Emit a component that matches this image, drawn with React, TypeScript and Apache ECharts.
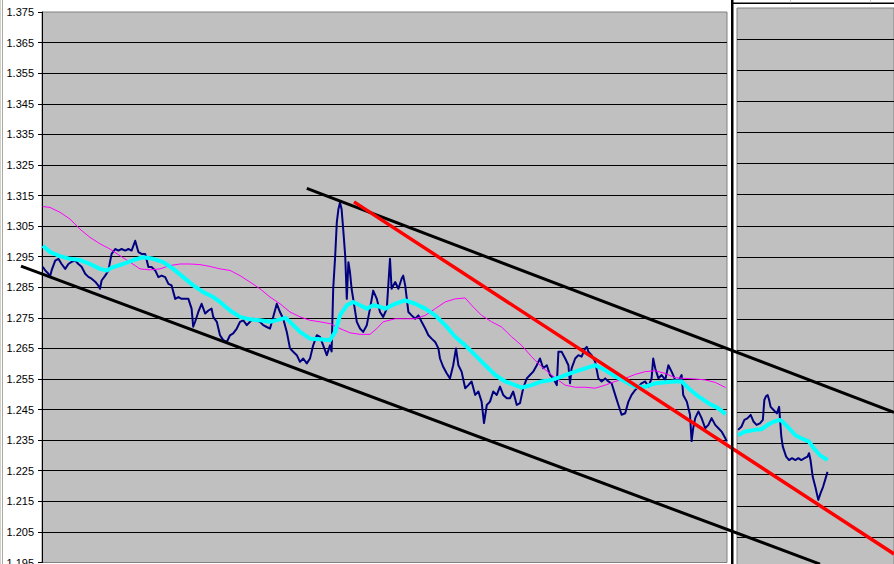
import React, { useEffect, useRef } from "react";
import * as echarts from "echarts";

// Axis range (price), and tick spacing
const priceMin = 1.195;
const priceMax = 1.375;
const priceStep = 0.01;
// x spans (sample periods) of the two panels
const leftSpan = 171.25;
const rightSpan = 42.5;

// Left panel: price [period, price]
const priceLeft: [number, number][] = [
  [0.2, 1.2917], [0.8, 1.2905], [1.6, 1.2894], [2.0, 1.2884], [2.4, 1.2905], [3.3, 1.2937], [4.1, 1.2943],
  [4.9, 1.2926], [5.8, 1.291], [6.6, 1.2926], [7.4, 1.2933], [8.3, 1.2937], [9.1, 1.2926], [9.9, 1.2917],
  [10.8, 1.2894], [11.6, 1.2884], [12.4, 1.2878], [13.3, 1.2868], [14.1, 1.2855], [14.5, 1.2845], [14.9, 1.2872],
  [15.8, 1.2888], [16.6, 1.2905], [17.4, 1.2959], [18.3, 1.2975], [19.1, 1.297], [19.9, 1.2975], [20.8, 1.297],
  [21.6, 1.2975], [22.4, 1.297], [23.3, 1.3002], [24.1, 1.2965], [24.9, 1.2959], [25.8, 1.2959], [26.6, 1.2916],
  [27.4, 1.2916], [28.3, 1.2905], [29.1, 1.2883], [29.9, 1.2888], [30.8, 1.2883], [31.6, 1.2861], [32.4, 1.2856],
  [33.3, 1.2812], [34.1, 1.2818], [34.9, 1.2812], [35.8, 1.2812], [36.6, 1.2812], [37.4, 1.278], [37.8, 1.2721],
  [38.3, 1.2738], [39.1, 1.277], [39.9, 1.2796], [40.8, 1.2764], [41.6, 1.2774], [42.4, 1.278], [42.8, 1.2753],
  [43.7, 1.2737], [44.5, 1.2693], [45.3, 1.2677], [46.2, 1.2671], [47.0, 1.2693], [47.8, 1.2699], [48.7, 1.2715],
  [49.5, 1.2737], [50.3, 1.2742], [51.2, 1.2726], [52.0, 1.2737], [52.8, 1.2747], [53.7, 1.2742], [54.5, 1.2737],
  [55.3, 1.2726], [56.2, 1.272], [57.0, 1.2715], [57.8, 1.2753], [58.7, 1.2796], [59.5, 1.2769], [60.3, 1.2747],
  [61.2, 1.2704], [62.0, 1.265], [62.8, 1.2639], [63.7, 1.2628], [64.5, 1.2606], [65.3, 1.2617], [66.2, 1.2601],
  [67.0, 1.2617], [67.8, 1.266], [68.7, 1.2693], [69.5, 1.2688], [70.3, 1.266], [71.2, 1.2628], [72.0, 1.266],
  [72.4, 1.264], [72.8, 1.2845], [73.3, 1.2953], [73.7, 1.3062], [74.1, 1.3105], [74.5, 1.3127], [74.9, 1.3105],
  [75.3, 1.304], [75.8, 1.2953], [76.2, 1.2812], [76.6, 1.2932], [77.0, 1.2899], [77.4, 1.2845], [77.8, 1.2812],
  [78.7, 1.2737], [79.5, 1.2715], [80.3, 1.2704], [81.2, 1.2726], [82.0, 1.278], [82.8, 1.2839], [83.7, 1.2812],
  [84.5, 1.2769], [85.3, 1.2753], [86.2, 1.278], [86.6, 1.2861], [87.0, 1.2943], [87.4, 1.2845], [88.3, 1.2867],
  [89.1, 1.2845], [89.9, 1.2878], [90.3, 1.2888], [90.8, 1.2856], [91.2, 1.2812], [91.6, 1.2769], [92.4, 1.2758],
  [93.3, 1.2747], [94.1, 1.2758], [94.9, 1.2737], [95.8, 1.2715], [96.6, 1.2693], [97.4, 1.2682], [98.3, 1.2671],
  [99.1, 1.265], [99.5, 1.2617], [100.3, 1.259], [101.2, 1.2568], [102.0, 1.2552], [102.8, 1.2595], [103.5, 1.265],
  [104.1, 1.2595], [104.9, 1.2574], [105.8, 1.252], [106.6, 1.253], [107.4, 1.2542], [108.3, 1.2498], [109.1, 1.2509],
  [109.9, 1.2476], [110.5, 1.2406], [111.2, 1.2465], [112.0, 1.2476], [112.8, 1.2509], [113.7, 1.2498], [114.5, 1.2525],
  [115.3, 1.2498], [116.2, 1.2487], [117.0, 1.2487], [117.8, 1.2509], [118.7, 1.2465], [119.5, 1.2471], [120.3, 1.252],
  [121.2, 1.2552], [122.0, 1.2563], [122.8, 1.2574], [123.7, 1.2595], [124.5, 1.2617], [125.3, 1.2585], [126.2, 1.2595],
  [127.0, 1.2563], [127.8, 1.2552], [128.7, 1.253], [129.1, 1.2639], [129.9, 1.2639], [130.8, 1.2617], [131.6, 1.2595],
  [132.0, 1.2536], [132.4, 1.2585], [133.3, 1.2617], [134.1, 1.2628], [134.9, 1.2623], [135.8, 1.265], [136.2, 1.2655],
  [136.6, 1.2639], [137.4, 1.2628], [138.3, 1.2606], [139.1, 1.2552], [139.9, 1.2542], [140.8, 1.2552], [141.6, 1.2542],
  [142.4, 1.2536], [143.3, 1.2498], [144.1, 1.2465], [144.9, 1.2433], [145.8, 1.2438], [146.6, 1.2476], [147.4, 1.2498],
  [148.3, 1.2514], [149.1, 1.2525], [149.9, 1.2536], [150.8, 1.2542], [151.6, 1.2525], [152.4, 1.2552], [152.8, 1.2617],
  [153.3, 1.2585], [154.1, 1.2552], [154.9, 1.2563], [155.8, 1.2547], [156.6, 1.2595], [157.4, 1.2574], [158.3, 1.2547],
  [159.1, 1.2542], [159.9, 1.2563], [160.3, 1.2498], [161.2, 1.2476], [162.0, 1.2433], [162.4, 1.2347], [162.8, 1.2389],
  [163.3, 1.2422], [164.1, 1.2444], [164.9, 1.2422], [165.8, 1.2389], [166.6, 1.24], [167.4, 1.2422], [168.3, 1.24],
  [169.1, 1.2389], [169.9, 1.2378], [170.8, 1.2357], [171.2, 1.2346],
];

// Left panel: fast moving average (cyan)
const fastAvgLeft: [number, number][] = [
  [0.2, 1.2986], [2.0, 1.2965], [4.5, 1.2952], [7.0, 1.2943], [9.5, 1.2939], [12.0, 1.2926], [14.5, 1.291],
  [16.2, 1.2905], [17.8, 1.2916], [20.3, 1.2926], [22.8, 1.2939], [25.3, 1.2948], [27.8, 1.2943], [30.3, 1.2932],
  [32.8, 1.291], [35.3, 1.2883], [37.8, 1.2856], [40.3, 1.2834], [42.8, 1.2818], [44.5, 1.2802], [47.0, 1.2774],
  [49.5, 1.2753], [52.0, 1.2745], [54.5, 1.2742], [57.0, 1.2737], [59.5, 1.2745], [60.8, 1.275], [62.0, 1.2737],
  [64.5, 1.2704], [67.0, 1.2682], [69.5, 1.268], [72.0, 1.2677], [73.3, 1.2704], [74.5, 1.2758], [76.2, 1.2791],
  [77.8, 1.2802], [79.5, 1.2791], [81.2, 1.278], [82.8, 1.2791], [84.5, 1.2786], [85.8, 1.278], [88.3, 1.2796],
  [90.8, 1.2807], [93.3, 1.2796], [95.8, 1.278], [98.3, 1.2758], [100.8, 1.2726], [103.3, 1.2688], [105.8, 1.266],
  [108.3, 1.2628], [110.8, 1.2595], [113.3, 1.2563], [115.8, 1.2542], [118.3, 1.253], [119.9, 1.2522], [122.4, 1.253],
  [124.9, 1.2542], [127.4, 1.2547], [129.9, 1.2558], [130.8, 1.2563], [133.3, 1.2574], [135.8, 1.2585], [138.3, 1.2595],
  [140.8, 1.2579], [143.3, 1.2558], [145.8, 1.2542], [148.3, 1.2525], [150.8, 1.2525], [153.3, 1.2536], [155.8, 1.2539],
  [158.3, 1.2542], [159.9, 1.2542], [161.6, 1.252], [164.1, 1.2493], [166.6, 1.2471], [169.1, 1.2454], [170.9, 1.2435],
];

// Left panel: slow moving average (magenta)
const slowAvgLeft: [number, number][] = [
  [0.2, 1.3114], [2.0, 1.3111], [4.5, 1.3095], [7.0, 1.3073], [9.5, 1.304], [12.0, 1.3013], [14.5, 1.2992],
  [17.0, 1.2975], [19.5, 1.2953], [22.0, 1.2932], [24.5, 1.291], [27.0, 1.2907], [29.5, 1.291], [32.0, 1.2921],
  [34.5, 1.2926], [37.0, 1.2926], [39.5, 1.2924], [42.0, 1.2918], [44.5, 1.291], [47.0, 1.2905], [49.5, 1.2888],
  [52.0, 1.2867], [54.5, 1.2845], [57.0, 1.2818], [59.5, 1.2796], [62.0, 1.2769], [64.5, 1.2753], [67.0, 1.2742],
  [69.5, 1.2737], [72.0, 1.2731], [74.5, 1.2715], [77.0, 1.2701], [79.5, 1.2696], [82.0, 1.2696], [83.7, 1.2715],
  [85.3, 1.2737], [88.3, 1.2747], [90.8, 1.2747], [93.3, 1.2747], [95.8, 1.2758], [98.3, 1.278], [100.8, 1.2802],
  [103.3, 1.2812], [105.8, 1.2815], [107.4, 1.2791], [109.9, 1.2758], [112.4, 1.2737], [114.9, 1.272], [117.4, 1.2688],
  [119.9, 1.266], [122.4, 1.2623], [124.9, 1.259], [127.4, 1.2563], [129.5, 1.2542], [130.8, 1.253], [133.3, 1.2523],
  [135.8, 1.2523], [138.3, 1.252], [140.8, 1.253], [143.3, 1.2542], [145.8, 1.2552], [148.3, 1.2565], [150.8, 1.2574],
  [153.3, 1.2577], [155.8, 1.2568], [158.3, 1.2554], [160.8, 1.2552], [163.3, 1.255], [165.8, 1.2547], [168.3, 1.2539],
  [170.9, 1.2522],
];

// Right panel: price and fast average
const priceRight: [number, number][] = [
  [0.3, 1.2394], [1.2, 1.2404], [2.0, 1.2426], [2.8, 1.2431], [3.7, 1.2442], [4.5, 1.242], [5.3, 1.241],
  [6.2, 1.2415], [7.0, 1.2426], [7.4, 1.249], [7.8, 1.2501], [8.3, 1.2506], [8.7, 1.249], [9.1, 1.2468],
  [9.9, 1.2458], [10.8, 1.2447], [11.4, 1.2468], [12.0, 1.2372], [12.4, 1.234], [13.3, 1.2308], [14.1, 1.2297],
  [14.9, 1.2303], [15.8, 1.2297], [16.6, 1.2303], [17.4, 1.2297], [18.3, 1.2303], [19.1, 1.2308], [19.5, 1.2319],
  [19.9, 1.2297], [20.5, 1.2243], [21.2, 1.2211], [22.0, 1.2169], [22.6, 1.219], [23.3, 1.2211], [24.1, 1.2243],
  [24.5, 1.2259],
];
const fastAvgRight: [number, number][] = [
  [0.3, 1.2377], [2.0, 1.2388], [4.9, 1.2394], [6.6, 1.2396], [8.3, 1.241], [9.9, 1.242], [11.6, 1.2426],
  [12.4, 1.242], [14.1, 1.2399], [15.8, 1.2377], [17.4, 1.2367], [19.5, 1.2356], [20.8, 1.2335], [22.4, 1.2313],
  [24.5, 1.2297],
];

// Hand-drawn trend lines (left panel periods / prices), drawn across both panels
const upperChannel: [number, number][] = [[66.2, 1.3176], [213.0, 1.2447]];
const lowerChannel: [number, number][] = [[-5.25, 1.2923], [194.5, 1.1953]];
const redTrend: [number, number][] = [[78.0, 1.3132], [213.0, 1.1986]];

const FONT = "'Liberation Sans', Arial, Helvetica, sans-serif";

// layout
const W = 894;
const H = 568;
const L_LEFT = 42;
const L_TOP = 12;
const L_W = 685;
const L_H = 553;

export default function App() {
  const ref = useRef<HTMLDivElement>(null);
  useEffect(() => {
    if (!ref.current) return;
    const chart = echarts.init(ref.current, null, { renderer: "svg" });
    // overlay axes share the left panel's scale, stretched over the whole canvas
    const pxPerX = L_W / leftSpan;
    const pxPerY = L_H / (priceMax - priceMin);
    const ovXMin = -L_LEFT / pxPerX;
    const ovXMax = (W - L_LEFT) / pxPerX;
    const ovYMax = priceMax + L_TOP / pxPerY;
    const ovYMin = priceMax - (H - L_TOP) / pxPerY;

    const line = (name: string, data: [number, number][], color: string, width: number, axis: number, z: number) => ({
      name,
      type: "line",
      xAxisIndex: axis,
      yAxisIndex: axis,
      data,
      symbol: "none",
      showSymbol: false,
      clip: axis !== 2,
      z,
      silent: true,
      lineStyle: { color, width, cap: "butt", join: "round" },
    });
    chart.setOption({
      animation: false,
      backgroundColor: "#ffffff",
      grid: [
        { left: L_LEFT, top: L_TOP, width: L_W, height: L_H, show: true, backgroundColor: "#C0C0C0", borderColor: "#808080", borderWidth: 1 },
        { left: 737, top: 8, width: 170, height: 560, show: true, backgroundColor: "#C0C0C0", borderColor: "#808080", borderWidth: 1 },
        { left: 0, top: 0, width: W, height: H, show: false },
      ],
      xAxis: [
        { type: "value", gridIndex: 0, min: 0, max: leftSpan, show: false },
        { type: "value", gridIndex: 1, min: 0, max: rightSpan, show: false },
        { type: "value", gridIndex: 2, min: ovXMin, max: ovXMax, show: false },
      ],
      yAxis: [
        {
          type: "value", gridIndex: 0, min: priceMin, max: priceMax, interval: priceStep,
          axisLine: { show: true, lineStyle: { color: "#000", width: 1 } },
          axisTick: { show: true, length: 4, lineStyle: { color: "#000" } },
          axisLabel: { formatter: (v: number) => v.toFixed(3), fontSize: 11, fontFamily: FONT, color: "#000", margin: 8 },
          splitLine: { show: true, showMaxLine: false, showMinLine: false, lineStyle: { color: "#000", width: 1 } },
        },
        {
          type: "value", gridIndex: 1, min: priceMin, max: priceMax, interval: priceStep,
          axisLine: { show: false }, axisTick: { show: false }, axisLabel: { show: false },
          splitLine: { show: true, showMaxLine: false, showMinLine: false, lineStyle: { color: "#000", width: 1 } },
        },
        { type: "value", gridIndex: 2, min: ovYMin, max: ovYMax, show: false, splitLine: { show: false } },
      ],
      series: [
        line("price", priceLeft, "#000080", 2, 0, 3),
        line("slow", slowAvgLeft, "#FF00FF", 1, 0, 4),
        line("fast", fastAvgLeft, "#00FFFF", 4, 0, 5),
        line("price2", priceRight, "#000080", 2, 1, 3),
        line("fast2", fastAvgRight, "#00FFFF", 4, 1, 5),
        line("upper", upperChannel, "#000000", 3, 2, 8),
        line("lower", lowerChannel, "#000000", 3, 2, 8),
        line("red", redTrend, "#FF0000", 3.5, 2, 9),
      ],
      graphic: [
        { type: "rect", shape: { x: 0, y: 0, width: 1, height: H }, style: { fill: "#D4D0C8" }, z: 20 },
        { type: "rect", shape: { x: 2, y: 0, width: 1, height: H }, style: { fill: "#A8A8A8" }, z: 20 },
        { type: "rect", shape: { x: 731, y: 0, width: 2.5, height: H }, style: { fill: "#000" }, z: 20 },
        { type: "rect", shape: { x: 731, y: 2.5, width: 163, height: 1.5 }, style: { fill: "#000" }, z: 20 },
        { type: "rect", shape: { x: 790, y: 0, width: 1, height: 2.5 }, style: { fill: "#C8C8C8" }, z: 20 },
        { type: "rect", shape: { x: 870, y: 0, width: 1, height: 2.5 }, style: { fill: "#C8C8C8" }, z: 20 },
      ],
    });
    return () => chart.dispose();
  }, []);
  return (
    <div style={{ position: "fixed", left: 0, top: 0, width: 894, height: 564, overflow: "hidden", background: "#fff" }}>
      <div ref={ref} style={{ width: W, height: H }} />
    </div>
  );
}
